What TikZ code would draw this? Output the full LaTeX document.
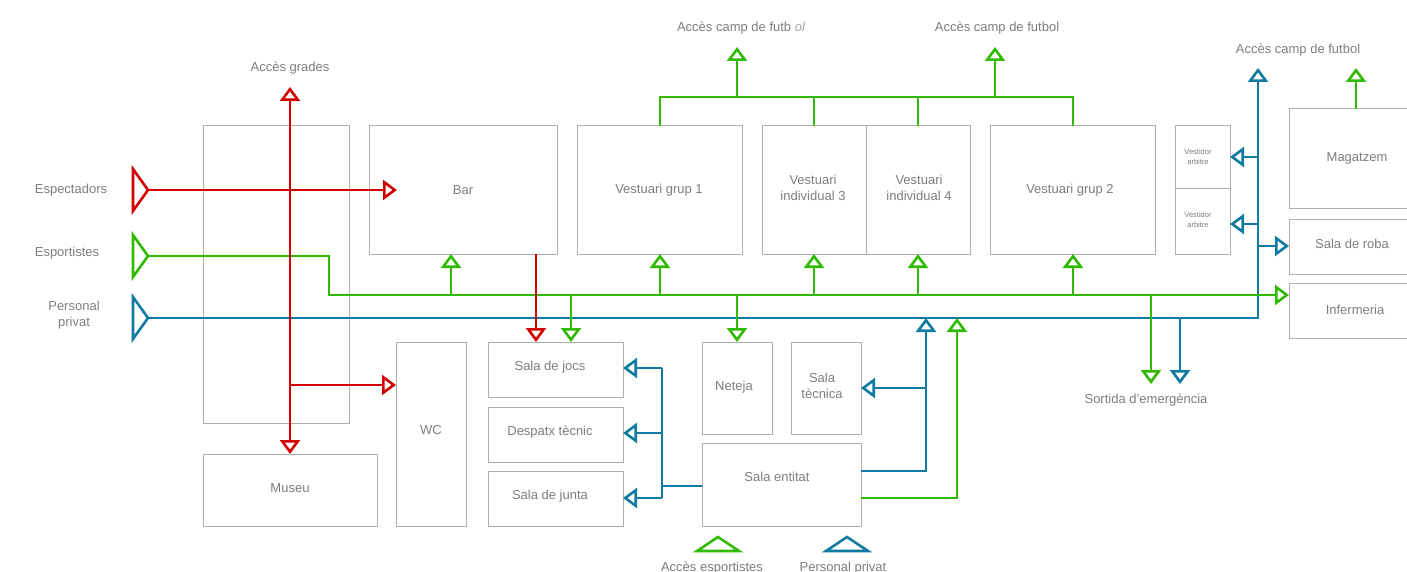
\documentclass[tikz,border=0pt]{standalone}
\usepackage{fontspec}
\setmainfont{Liberation Sans}
\usetikzlibrary{arrows.meta}
\definecolor{cred}{RGB}{210,0,0}
\definecolor{cgreen}{RGB}{48,186,0}
\definecolor{cblue}{RGB}{15,122,162}
\definecolor{boxgray}{RGB}{175,175,175}
\definecolor{txtgray}{RGB}{125,125,125}
\definecolor{lightgraytxt}{RGB}{165,165,165}
\newcommand\room[5]{\node[box,minimum width={(#4-#2)*1pt},minimum height={(#5-#3)*1pt}] (#1) at ({(#2+#4)/2},{(#3+#5)/2}) {};}
\begin{document}
\begin{tikzpicture}[x=1pt,y=-1pt,
 box/.style={draw=boxgray,line width=1pt,inner sep=0pt,outer sep=0pt},
 lbl/.style={text=txtgray,font=\fontsize{13}{16.5}\selectfont,align=center,inner sep=0pt},
 small/.style={text=txtgray,font=\fontsize{7.5}{10}\selectfont,align=center,inner sep=0pt},
 flow/.style={line width=2.6pt,line join=miter},
 rl/.style={flow,draw=cred},
 gl/.style={flow,draw=cgreen},
 bl/.style={flow,draw=cblue},
 tip/.style={-{Triangle[open,length=14pt,width=20pt]}},
 tipboth/.style={{Triangle[open,length=14pt,width=20pt]}-{Triangle[open,length=14pt,width=20pt]}},
 tri/.style={line width=2.6pt,line join=miter}
]
\useasboundingbox (0,0) rectangle (1407,572);
\clip (0,0) rectangle (1407,572);

% rooms
\room{stand}{203}{126}{349}{423}
\room{bar}{369}{126}{557}{254}
\room{vg1}{577}{126}{742}{254}
\room{vi3}{762}{126}{866}{254}
\room{vi4}{866}{126}{970}{254}
\room{vg2}{990}{126}{1155}{254}
\room{va1}{1175}{126}{1230}{189}
\room{va2}{1175}{189}{1230}{254}
\room{mag}{1289}{109}{1425}{208}
\room{roba}{1289}{219}{1425}{274}
\room{inf}{1289}{283}{1425}{338}
\room{wc}{396}{342}{466}{526}
\room{museu}{203}{454}{377}{526}
\room{jocs}{488}{342}{623}{397}
\room{desp}{488}{407}{623}{462}
\room{junta}{488}{471}{623}{526}
\room{neteja}{702}{342}{772}{434}
\room{tec}{791}{342}{861}{434}
\room{ent}{702}{443}{861}{526}

% room labels
\node[lbl] (t-bar) at (463,190) {Bar};
\node[lbl] (t-vg1) at (659,190) {Vestuari grup 1};
\node[lbl] (t-vi3) at (813,188) {Vestuari\\individual 3};
\node[lbl] (t-vi4) at (919,188) {Vestuari\\individual 4};
\node[lbl] (t-vg2) at (1070,190) {Vestuari grup 2};
\node[small] (t-va1) at (1198,157) {Vestidor\\arbitre};
\node[small] (t-va2) at (1198,220) {Vestidor\\arbitre};
\node[lbl] (t-mag) at (1357,158) {Magatzem};
\node[lbl] (t-roba) at (1352,244) {Sala de roba};
\node[lbl] (t-inf) at (1355,310) {Infermeria};
\node[lbl] (t-wc) at (431,430) {WC};
\node[lbl] (t-museu) at (290,488) {Museu};
\node[lbl] (t-jocs) at (550,367) {Sala de jocs};
\node[lbl] (t-desp) at (550,432) {Despatx tècnic};
\node[lbl] (t-junta) at (550,496) {Sala de junta};
\node[lbl] (t-net) at (734,387) {Neteja};
\node[lbl] (t-tec) at (822,386) {Sala\\tècnica};
\node[lbl] (t-ent) at (777,477) {Sala entitat};

% outside labels
\node[lbl] (l-grades) at (290,68) {Accès grades};
\node[lbl] (l-camp1) at (741,28) {Accès camp de futb {\itshape\color{lightgraytxt}ol}};
\node[lbl] (l-camp2) at (997,28) {Accès camp de futbol};
\node[lbl] (l-camp3) at (1298,50) {Accès camp de futbol};
\node[lbl] (l-spec) at (71,190) {Espectadors};
\node[lbl] (l-sport) at (67,253) {Esportistes};
\node[lbl] (l-priv) at (74,315) {Personal\\privat};
\node[lbl] (l-sort) at (1146,400) {Sortida d'emergència};
\node[lbl] (l-accesp) at (712,568) {Accès esportistes};
\node[lbl] (l-accpriv) at (843,568) {Personal privat};

% entry triangles
\draw[tri,draw=cred] (133,169) -- (148,190) -- (133,211) -- cycle;
\draw[tri,draw=cgreen] (133,235) -- (148,256) -- (133,277) -- cycle;
\draw[tri,draw=cblue] (133,297) -- (148,318) -- (133,339) -- cycle;
\draw[tri,draw=cgreen] (697,551) -- (718,537) -- (739,551) -- cycle;
\draw[tri,draw=cblue] (826,551) -- (847,537) -- (868,551) -- cycle;
\coordinate (spec) at (148,190);
\coordinate (sport) at (148,256);
\coordinate (priv) at (148,318);

% blue flows
\draw[bl,tip] (priv) -- (1258,318) -- (1258,68);
\draw[bl,tip] (1258,157) -- (va1.east |- 0,157);
\draw[bl,tip] (1258,224) -- (va2.east |- 0,224);
\draw[bl,tip] (1258,246) -- (roba.west |- 0,246);
\draw[bl,tip] (1180,318) -- (1180,384);
\draw[bl,tip] (ent.east |- 0,471) -- (926,471) -- (926,318);
\draw[bl,tip] (926,388) -- (tec.east |- 0,388);
\draw[bl] (ent.west |- 0,486) -- (662,486);
\draw[bl] (662,368) -- (662,498);
\draw[bl,tip] (662,368) -- (jocs.east |- 0,368);
\draw[bl,tip] (662,433) -- (desp.east |- 0,433);
\draw[bl,tip] (662,498) -- (junta.east |- 0,498);

% green flows
\draw[gl,tip] (sport) -- (329,256) -- (329,295) -- (inf.west |- 0,295);
\foreach \x in {451,660,814,918,1073} \draw[gl,tip] (\x,295) -- (\x,254);
\draw[gl,tip] (571,295) -- (571,342);
\draw[gl,tip] (737,295) -- (737,342);
\draw[gl,tip] (1151,295) -- (1151,384);
\draw[gl] (660,126) -- (660,97) -- (1073,97) -- (1073,126);
\draw[gl] (814,126) -- (814,97);
\draw[gl] (918,126) -- (918,97);
\draw[gl,tip] (737,97) -- (737,47);
\draw[gl,tip] (995,97) -- (995,47);
\draw[gl,tip] (mag.north -| 1356,0) -- (1356,68);
\draw[gl,tip] (ent.east |- 0,498) -- (957,498) -- (957,318);

% red flows
\draw[rl,tip] (spec) -- (397,190);
\draw[rl,tipboth] (290,87) -- (museu.north -| 290,0);
\draw[rl,tip] (290,385) -- (wc.west |- 0,385);
\draw[rl,tip] (bar.south -| 536,0) -- (536,342);
\end{tikzpicture}
\end{document}
